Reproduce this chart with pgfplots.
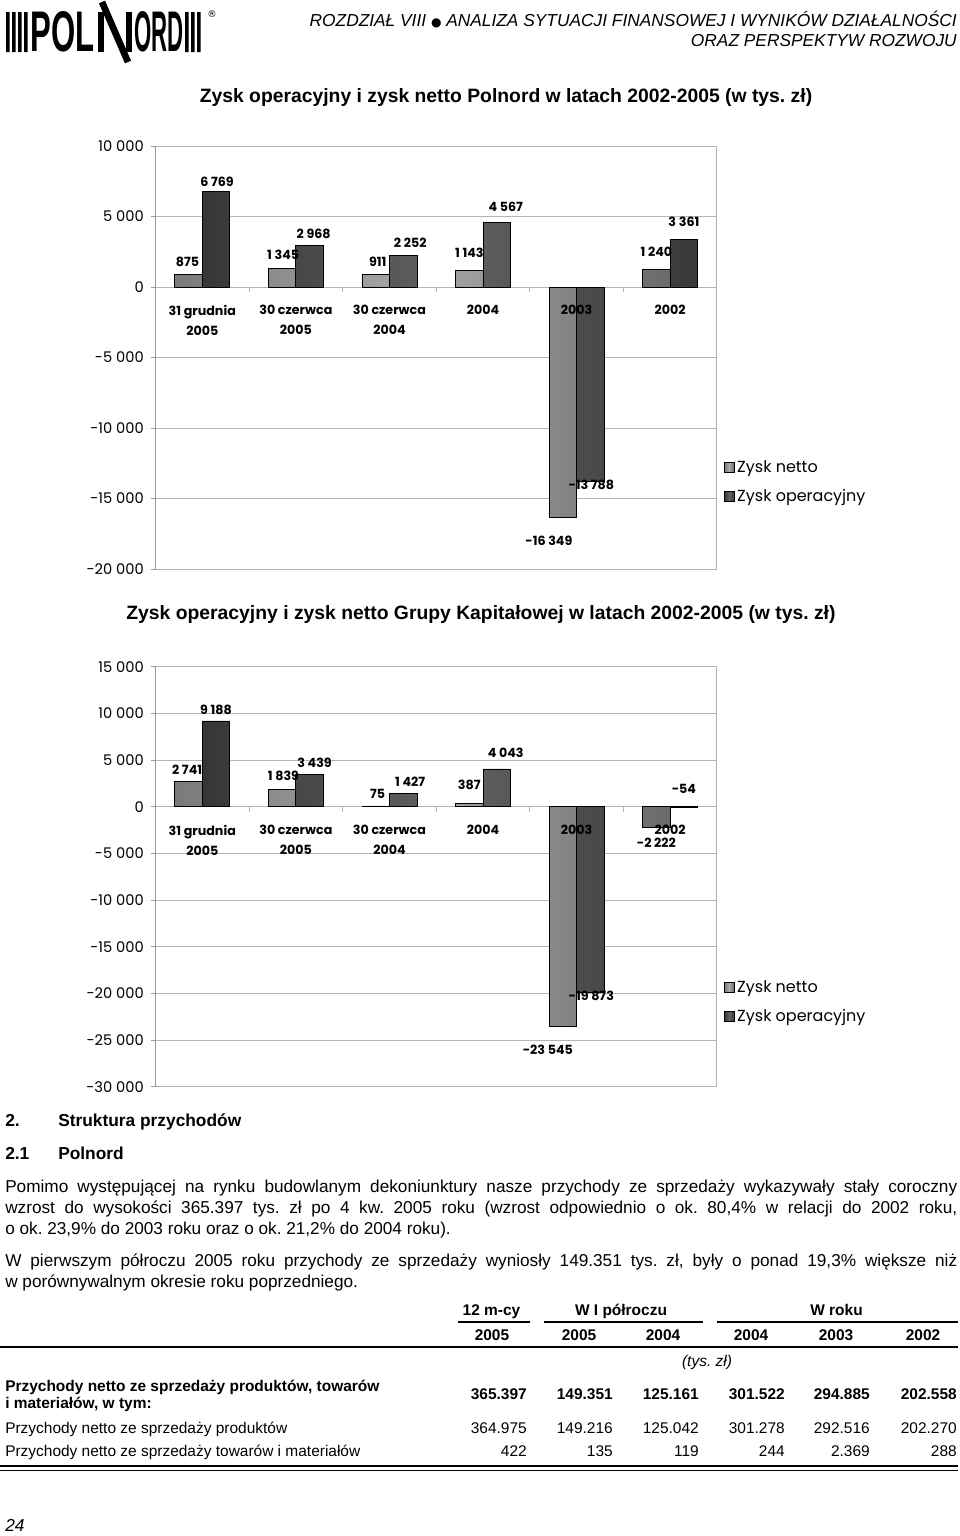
\documentclass[border=0pt]{standalone}
\usepackage{fontspec}
\setmainfont{Liberation Sans}
\newfontfamily\cg{Poppins}
\newfontfamily\sym{DejaVu Sans}
\usepackage{graphicx}
\usepackage{pgfplots}
\pgfplotsset{compat=1.18}
\usepackage{pgfplotstable}
\frenchspacing

\definecolor{gridgray}{HTML}{B4B4B4}
\definecolor{axisgray}{HTML}{9A9A9A}
\definecolor{nL}{HTML}{7A7A7A}
\definecolor{nM}{HTML}{A8A8A8}
\definecolor{nR}{HTML}{6A6A6A}
\definecolor{oL}{HTML}{363636}
\definecolor{oM}{HTML}{626262}
\definecolor{oR}{HTML}{383838}

% zysk netto / operacyjny (tys. zl)
\pgfplotstableread{
x netto oper
0 875 6769
1 1345 2968
2 911 2252
3 1143 4567
4 -16349 -13788
5 1240 3361
}\polnord

\pgfplotstableread{
x netto oper
0 2741 9188
1 1839 3439
2 75 1427
3 387 4043
4 -23545 -19873
5 -2222 -54
}\grupa

% label offsets in pt, one per bar
\def\pndx{{-0.75,0.75,1.5,0,-10.5,0}}
\def\pndy{{9.5,9.75,9,13.5,-17.6,13.2}}
\def\podx{{0.75,3,5.25,6.75,0.75,0}}
\def\pody{{7.7,8.25,9,11.5,-2.25,13.7}}
\def\gndx{{-1.1,1,1.5,0,-11.25,0}}
\def\gndy{{8.5,10,9,13.7,-17.6,-11.25}}
\def\godx{{0,3.75,5.25,6.75,0.75,0}}
\def\gody{{8.25,8.5,9,11.8,-2.8,13.5}}

\pgfplotsset{
  zysk/.style={
    scale only axis, width=421.1pt,
    xmin=-0.5, xmax=5.5,
    ybar=0pt, bar width=20.6pt,
    axis y line*=left, axis x line*=middle,
    xtick={0,1,2,3,4,5},
    xticklabels={},
    xtick style={draw=none},
    extra x ticks={0.5,1.5,2.5,3.5,4.5},
    extra x tick labels={},
    extra x tick style={xtick style={draw=gridgray, line width=0.75pt}},
    tick align=outside,
    major tick length=3.75pt,
    ymajorgrids, grid style={draw=gridgray, line width=0.75pt},
    x axis line style={draw=gridgray, line width=0.75pt},
    y axis line style={draw=axisgray, line width=1pt},
    ytick style={draw=axisgray, line width=0.75pt},
    yticklabel style={font=\cg\fontsize{11}{13}\selectfont, xshift=-1.5pt},
    scaled y ticks=false,
    /pgf/number format/fixed,
    /pgf/number format/1000 sep={\ },
    /pgf/number format/assume math mode=true,
    legend style={anchor=west, xshift=5pt, draw=none, fill=none,
      font=\cg\fontsize{12}{14}\selectfont, row sep=7pt, inner sep=0pt,
      cells={anchor=west}, /tikz/every even column/.append style={column sep=4pt}},
    legend image code/.code={\draw[#1, draw=black, line width=0.5pt] (0pt,-3.75pt) rectangle (7.5pt,3.75pt);},
  },
  % overlay axis: category names drawn above the bars
  kategorie/.style={
    scale only axis, width=421.1pt,
    xmin=-0.5, xmax=5.5,
    axis x line*=middle, hide y axis,
    x axis line style={draw=none},
    xtick={0,1,2,3,4,5},
    xtick style={draw=none},
    xticklabels={{31 grudnia\\2005},{30 czerwca\\2005},{30 czerwca\\2004},{2004},{2003},{2002}},
    xticklabel style={align=center, font=\cg\bfseries\fontsize{9.5}{15}\selectfont, yshift=-10.25pt},
  },
  labelled/.style 2 args={nodes near coords,
    every node near coord/.append style={font=\cg\bfseries\fontsize{9.5}{11}\selectfont,
      anchor=center, xshift={#1[\coordindex]*1pt}, yshift={#2[\coordindex]*1pt}}},
  nettobar/.style={draw=black, line width=0.6pt, left color=nL, right color=nR, middle color=nM},
  operbar/.style={draw=black, line width=0.6pt, left color=oL, right color=oR, middle color=oM},
}

\begin{document}
\begin{tikzpicture}[x=0.75pt, y=-0.75pt]
\useasboundingbox (0,0) rectangle (960,1536);

% logo
\fill[black] (6,12) rectangle (9.5,52) (12,12) rectangle (15.5,52) (18,12) rectangle (21.5,52) (24,12) rectangle (27.5,52);
\node[anchor=south west, inner sep=0pt] at (30,52) {\resizebox{48pt}{30pt}{\bfseries POL}};
\draw[line width=4.5pt] (101,12) -- (101,52) (129,12) -- (129,52);
\draw[line width=5pt] (102,2) -- (128,62);
\node[anchor=south west, inner sep=0pt] at (134,52) {\resizebox{37pt}{30pt}{\bfseries ORD}};
\fill[black] (185,12) rectangle (188.5,52) (191,12) rectangle (194.5,52) (197,12) rectangle (200.5,52);
\node[anchor=center, inner sep=0pt] at (212,14) {\sym\fontsize{7}{8}\selectfont ®};

% header
\node[anchor=base east, inner sep=0pt, font=\itshape\fontsize{13}{15}\selectfont] at (957,26)
  {ROZDZIAŁ VIII {\sym\upshape\fontsize{9}{12}\selectfont ●} ANALIZA SYTUACJI FINANSOWEJ I WYNIKÓW DZIAŁALNOŚCI};
\node[anchor=base east, inner sep=0pt, font=\itshape\fontsize{13}{15}\selectfont] at (957,46)
  {ORAZ PERSPEKTYW ROZWOJU};

% chart 1
\node[anchor=base, inner sep=0pt, font=\bfseries\fontsize{14.5}{17}\selectfont] at (506,102)
  {Zysk operacyjny i zysk netto Polnord w latach 2002-2005 (w tys. zł)};
\begin{axis}[zysk, at={(116.625pt,-109.5pt)}, anchor=north west, height=317.25pt,
  ymin=-20000, ymax=10000, ytick={-20000,-15000,...,10000},
  legend style={at={(rel axis cs:1,0.206)}}]
\addplot[operbar, bar shift=10.3pt, labelled={\podx}{\pody}, forget plot] table[x=x, y=oper]{\polnord};
\addplot[nettobar, bar shift=-10.3pt, labelled={\pndx}{\pndy}, forget plot] table[x=x, y=netto]{\polnord};
\addlegendimage{nettobar}\addlegendentry{Zysk netto}
\addlegendimage{operbar}\addlegendentry{Zysk operacyjny}
\draw[gridgray, line width=0.75pt] (rel axis cs:1,0) -- (rel axis cs:1,1);
\end{axis}
\begin{axis}[kategorie, at={(116.625pt,-109.5pt)}, anchor=north west, height=317.25pt,
  ymin=-20000, ymax=10000]
\end{axis}

% chart 2
\node[anchor=base, inner sep=0pt, font=\bfseries\fontsize{14.5}{17}\selectfont] at (481,619)
  {Zysk operacyjny i zysk netto Grupy Kapitałowej w latach 2002-2005 (w tys. zł)};
\begin{axis}[zysk, at={(116.625pt,-500pt)}, anchor=north west, height=315pt,
  ymin=-30000, ymax=15000, ytick={-30000,-25000,...,15000},
  legend style={at={(rel axis cs:1,0.2017)}}]
\addplot[operbar, bar shift=10.3pt, labelled={\godx}{\gody}, forget plot] table[x=x, y=oper]{\grupa};
\addplot[nettobar, bar shift=-10.3pt, labelled={\gndx}{\gndy}, forget plot] table[x=x, y=netto]{\grupa};
\addlegendimage{nettobar}\addlegendentry{Zysk netto}
\addlegendimage{operbar}\addlegendentry{Zysk operacyjny}
\draw[gridgray, line width=0.75pt] (rel axis cs:1,0) -- (rel axis cs:1,1);
\end{axis}
\begin{axis}[kategorie, at={(116.625pt,-500pt)}, anchor=north west, height=315pt,
  ymin=-30000, ymax=15000]
\end{axis}

% headings
\begin{scope}[every node/.style={inner sep=0pt, anchor=base west, font=\bfseries\fontsize{13}{15}\selectfont}]
\node at (5,1126) {2.};
\node at (58,1126) {Struktura przychodów};
\node at (5,1159) {2.1};
\node at (58,1159) {Polnord};
\end{scope}

% body text
\begin{scope}[every node/.style={inner sep=0pt, anchor=base west, font=\fontsize{12.9}{15}\selectfont}]
\node at (5,1192) {\makebox[714pt][s]{Pomimo występującej na rynku budowlanym dekoniunktury nasze przychody ze sprzedaży wykazywały stały coroczny}};
\node at (5,1213) {\makebox[714pt][s]{wzrost do wysokości 365.397 tys. zł po 4 kw. 2005 roku (wzrost odpowiednio o ok. 80,4\% w relacji do 2002 roku,}};
\node at (5,1234) {o ok. 23,9\% do 2003 roku oraz o ok. 21,2\% do 2004 roku).};
\node at (5,1266) {\makebox[714pt][s]{W pierwszym półroczu 2005 roku przychody ze sprzedaży wyniosły 149.351 tys. zł, były o ponad 19,3\% większe niż}};
\node at (5,1287) {w porównywalnym okresie roku poprzedniego.};
\end{scope}

% table
\begin{scope}[every node/.style={inner sep=0pt, font=\fontsize{11.6}{14}\selectfont}]
\node[anchor=base, font=\bfseries\fontsize{11.6}{14}\selectfont] at (491.5,1315) {12 m-cy};
\node[anchor=base, font=\bfseries\fontsize{11.6}{14}\selectfont] at (621,1315) {W I półroczu};
\node[anchor=base, font=\bfseries\fontsize{11.6}{14}\selectfont] at (836.5,1315) {W roku};
\draw[line width=1.1pt] (458,1322) -- (530,1322) (544,1322) -- (703,1322) (717,1322) -- (958,1322);
\foreach \cx/\yr in {492/2005, 579/2005, 663/2004, 751/2004, 836/2003, 923/2002}
  \node[anchor=base, font=\bfseries\fontsize{11.6}{14}\selectfont] at (\cx,1340) {\yr};
\draw[line width=1.1pt] (0,1347) -- (958,1347);
\node[anchor=base, font=\itshape\fontsize{11.6}{14}\selectfont] at (707,1366) {(tys. zł)};
\node[anchor=base west, font=\bfseries\fontsize{11.6}{14}\selectfont] at (5,1391) {Przychody netto ze sprzedaży produktów, towarów};
\node[anchor=base west, font=\bfseries\fontsize{11.6}{14}\selectfont] at (5,1408) {i materiałów, w tym:};
\foreach \rx/\v in {527/365.397, 613/149.351, 699/125.161, 785/301.522, 870/294.885, 957/202.558}
  \node[anchor=base east, font=\bfseries\fontsize{11.6}{14}\selectfont] at (\rx,1399) {\v};
\node[anchor=base west] at (5,1433) {Przychody netto ze sprzedaży produktów};
\foreach \rx/\v in {527/364.975, 613/149.216, 699/125.042, 785/301.278, 870/292.516, 957/202.270}
  \node[anchor=base east] at (\rx,1433) {\v};
\node[anchor=base west] at (5,1456) {Przychody netto ze sprzedaży towarów i materiałów};
\foreach \rx/\v in {527/422, 613/135, 699/119, 785/244, 870/2.369, 957/288}
  \node[anchor=base east] at (\rx,1456) {\v};
\draw[line width=1.1pt] (0,1466) -- (958,1466) (0,1470.5) -- (958,1470.5);
\end{scope}

% page number
\node[anchor=base west, inner sep=0pt, font=\itshape\fontsize{13}{15}\selectfont] at (5,1531) {24};
\end{tikzpicture}
\end{document}
